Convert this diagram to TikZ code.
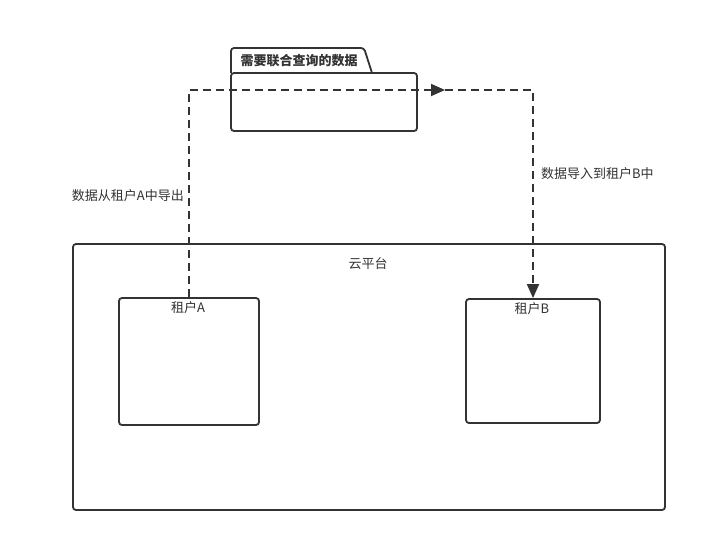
\documentclass[tikz,border=0pt]{standalone}
\usepackage{fontspec}
\setmainfont{Liberation Sans}
\newfontfamily\cjk{Noto Sans CJK SC}
\usetikzlibrary{arrows.meta}
\definecolor{ink}{HTML}{333333}
\tikzset{
  box/.style={draw=ink, line width=1.8pt, rounded corners=3pt, inner sep=0pt},
  lbl/.style={text=ink, font=\cjk\fontsize{13}{15}\selectfont, inner sep=0pt},
  flow/.style={draw=ink, line width=1.8pt, dash pattern=on 8pt off 5pt, -{Triangle[length=14pt,width=12pt]}},
}
\begin{document}
\begin{tikzpicture}[x=1pt,y=-1pt]
\useasboundingbox[fill=white] (0,0) rectangle (709,543);
% package shape
\draw[ink, line width=1.8pt, rounded corners=3pt] (231,73) -- (231,48) -- (364,48) -- (372,73);
\node[box, minimum width=186pt, minimum height=58pt] (pkg) at (324,102) {};
\node[lbl, font=\cjk\bfseries\fontsize{13}{15}\selectfont] (pkgt) at (299,61) {需要联合查询的数据};
% cloud
\node[box, minimum width=592pt, minimum height=266pt] (cloud) at (369,377) {};
\node[lbl] (cloudt) at (368,264) {云平台};
% tenants
\node[box, minimum width=140pt, minimum height=127pt] (A) at (189,361.5) {};
\node[lbl] (At) at (188,308) {租户A};
\node[box, minimum width=134pt, minimum height=124pt] (B) at (533,361) {};
\node[lbl] (Bt) at (532,309) {租户B};
% connector
\coordinate (mid) at (445,90);
\draw[flow] (A.north) |- (mid);
\draw[flow] (mid) -| (B.north);
% labels
\node[lbl, anchor=east] (l1) at (184,196) {数据从租户A中导出};
\node[lbl, anchor=west] (l2) at (541,174) {数据导入到租户B中};
\end{tikzpicture}
\end{document}
